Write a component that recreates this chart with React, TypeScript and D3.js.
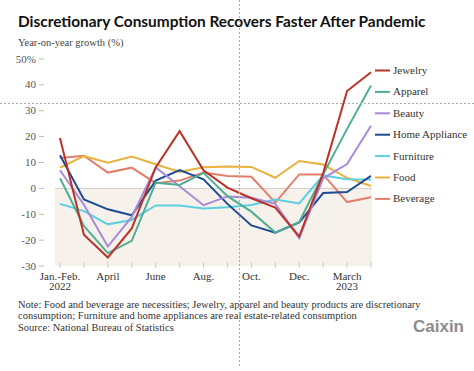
import React, { useEffect, useRef } from "react";
import * as d3 from "d3";

// month points (Jan.-Feb. 2022 .. April 2023)
const months = ["Jan.-Feb.", "March", "April", "May", "June", "July", "Aug.", "Sept.", "Oct.", "Nov.", "Dec.", "Jan.-Feb.", "March", "April"];
const tickLabels = [
  { i: 0, lines: ["Jan.-Feb.", "2022"] },
  { i: 2, lines: ["April"] },
  { i: 4, lines: ["June"] },
  { i: 6, lines: ["Aug."] },
  { i: 8, lines: ["Oct."] },
  { i: 10, lines: ["Dec."] },
  { i: 12, lines: ["March", "2023"] },
];
const yTicks = [-30, -20, -10, 0, 10, 20, 30, 40, 50];

const jewelry = [19.5, -17.9, -26.7, -15.5, 8.1, 22.1, 7.0, 0.3, -3.8, -7.4, -18.6, 5.9, 37.6, 44.9];
const apparel = [3.9, -14.5, -25.0, -20.3, 2.2, 1.3, 6.0, -3.0, -9.0, -17.1, -13.0, 5.4, 23.0, 39.8];
const beauty = [7.0, -6.3, -22.5, -11.0, 8.1, 0.8, -6.5, -3.1, -3.6, -6.0, -19.2, 3.9, 9.4, 24.2];
const homeAppliance = [12.8, -4.3, -8.1, -10.4, 3.0, 7.1, 3.5, -6.0, -14.3, -17.1, -13.2, -1.8, -1.4, 4.8];
const furniture = [-6.0, -8.8, -13.9, -12.2, -6.6, -6.6, -7.8, -7.3, -6.4, -4.3, -5.8, 5.0, 3.5, 3.4];
const food = [8.0, 12.5, 9.9, 12.3, 9.3, 6.3, 8.2, 8.5, 8.3, 4.1, 10.6, 9.2, 4.1, 0.9];
const beverage = [11.7, 12.6, 6.1, 8.0, 2.0, 3.0, 6.1, 4.8, 4.5, -5.5, 5.4, 5.4, -5.3, -3.4];

const series = [
  { name: "Jewelry", color: "#bb3228", values: jewelry },
  { name: "Apparel", color: "#4fae95", values: apparel },
  { name: "Beauty", color: "#a88ad6", values: beauty },
  { name: "Home Appliance", color: "#1f4b93", values: homeAppliance },
  { name: "Furniture", color: "#5ccfe0", values: furniture },
  { name: "Food", color: "#e9b23d", values: food },
  { name: "Beverage", color: "#e47e6b", values: beverage },
];

const noteLines = [
  "Note: Food and beverage are necessities; Jewelry, apparel and beauty products are discretionary",
  "consumption; Furniture and home appliances are real estate-related consumption",
];

const W = 474;
const H = 371;
const serif = "'Liberation Serif', 'DejaVu Serif', serif";

export default function App() {
  const ref = useRef<HTMLDivElement>(null);

  useEffect(() => {
    if (!ref.current) return;
    d3.select(ref.current).selectAll("*").remove();

    const svg = d3
      .select(ref.current)
      .append("svg")
      .attr("width", W)
      .attr("height", H)
      .style("display", "block")
      .style("background", "#fff");

    const x = d3.scaleLinear().domain([0, months.length - 1]).range([60, 371]);
    const y = d3.scaleLinear().domain([-30, 50]).range([266, 59]);

    // title + subtitle
    svg.append("text")
      .attr("x", 18)
      .attr("y", 27.3)
      .text("Discretionary Consumption Recovers Faster After Pandemic")
      .attr("fill", "#111")
      .style("font-family", "Lato, 'Open Sans', sans-serif")
      .style("font-weight", "700")
      .style("font-size", "15.4px");

    svg.append("text")
      .attr("x", 18)
      .attr("y", 45.5)
      .text("Year-on-year growth (%)")
      .attr("fill", "#444")
      .style("font-family", serif)
      .style("font-size", "10.5px");

    // negative band
    svg.append("rect")
      .attr("x", 55)
      .attr("y", y(0))
      .attr("width", 372 - 55)
      .attr("height", y(-30) - y(0))
      .attr("fill", "#f6f1ea");

    svg.append("line")
      .attr("x1", 55)
      .attr("x2", 372)
      .attr("y1", y(0))
      .attr("y2", y(0))
      .attr("stroke", "#d2ccc4")
      .attr("stroke-width", 1);

    // y axis labels with small dash
    const yAxis = svg.append("g");
    yTicks.forEach((t) => {
      yAxis.append("text")
        .attr("x", 36)
        .attr("y", y(t) + 3.5)
        .attr("text-anchor", "end")
        .text(t === 50 ? "50%" : String(t))
        .attr("fill", "#555")
        .style("font-family", serif)
        .style("font-size", "11px");
      yAxis.append("line")
        .attr("x1", 39)
        .attr("x2", 44)
        .attr("y1", y(t))
        .attr("y2", y(t))
        .attr("stroke", "#bbb")
        .attr("stroke-width", 1);
    });

    // x ticks
    const xAxis = svg.append("g");
    months.forEach((_, i) => {
      xAxis.append("line")
        .attr("x1", x(i))
        .attr("x2", x(i))
        .attr("y1", 262)
        .attr("y2", 268)
        .attr("stroke", "#ccc")
        .attr("stroke-width", 1);
    });
    tickLabels.forEach((tl) => {
      tl.lines.forEach((s, k) => {
        xAxis.append("text")
          .attr("x", x(tl.i))
          .attr("y", 279.5 + k * 10.5)
          .attr("text-anchor", "middle")
          .text(s)
          .attr("fill", "#333")
          .style("font-family", serif)
          .style("font-size", "11px");
      });
    });

    // lines
    const lineGen = d3
      .line<number>()
      .x((_, i) => x(i))
      .y((d) => y(d));

    series.slice().reverse().forEach((s) => {
      svg.append("path")
        .datum(s.values)
        .attr("d", lineGen)
        .attr("fill", "none")
        .attr("stroke", s.color)
        .attr("stroke-width", 2)
        .attr("stroke-linejoin", "miter");
    });

    // legend
    series.forEach((s, i) => {
      const ly = 70.5 + i * 21.4;
      svg.append("line")
        .attr("x1", 375)
        .attr("x2", 390)
        .attr("y1", ly)
        .attr("y2", ly)
        .attr("stroke", s.color)
        .attr("stroke-width", 2);
      svg.append("text")
        .attr("x", 393)
        .attr("y", ly + 3.5)
        .text(s.name)
        .attr("fill", "#333")
        .style("font-family", serif)
        .style("font-size", "11px");
    });

    // note + source
    noteLines.forEach((s, k) => {
      svg.append("text")
        .attr("x", 18)
        .attr("y", 308 + k * 11)
        .text(s)
        .attr("fill", "#333")
        .style("font-family", serif)
        .style("font-size", "10.5px");
    });
    svg.append("text")
      .attr("x", 18)
      .attr("y", 331)
      .text("Source: National Bureau of Statistics")
      .attr("fill", "#333")
      .style("font-family", serif)
      .style("font-size", "10.5px");

    svg.append("text")
      .attr("x", 464)
      .attr("y", 332)
      .attr("text-anchor", "end")
      .text("Caixin")
      .attr("fill", "#8c8c8c")
      .style("font-family", "'Liberation Sans', Arial, sans-serif")
      .style("font-weight", "700")
      .style("font-size", "17px");

    // dashed guide lines over the whole picture
    svg.append("line")
      .attr("x1", 239.5)
      .attr("x2", 239.5)
      .attr("y1", 0)
      .attr("y2", 368)
      .attr("stroke", "#aaa")
      .attr("stroke-width", 1)
      .attr("stroke-dasharray", "2,2");
    svg.append("line")
      .attr("x1", 0)
      .attr("x2", W)
      .attr("y1", 103.5)
      .attr("y2", 103.5)
      .attr("stroke", "#aaa")
      .attr("stroke-width", 1)
      .attr("stroke-dasharray", "2,2");
  }, []);

  return <div ref={ref} style={{ position: "absolute", left: 0, top: 0 }} />;
}
